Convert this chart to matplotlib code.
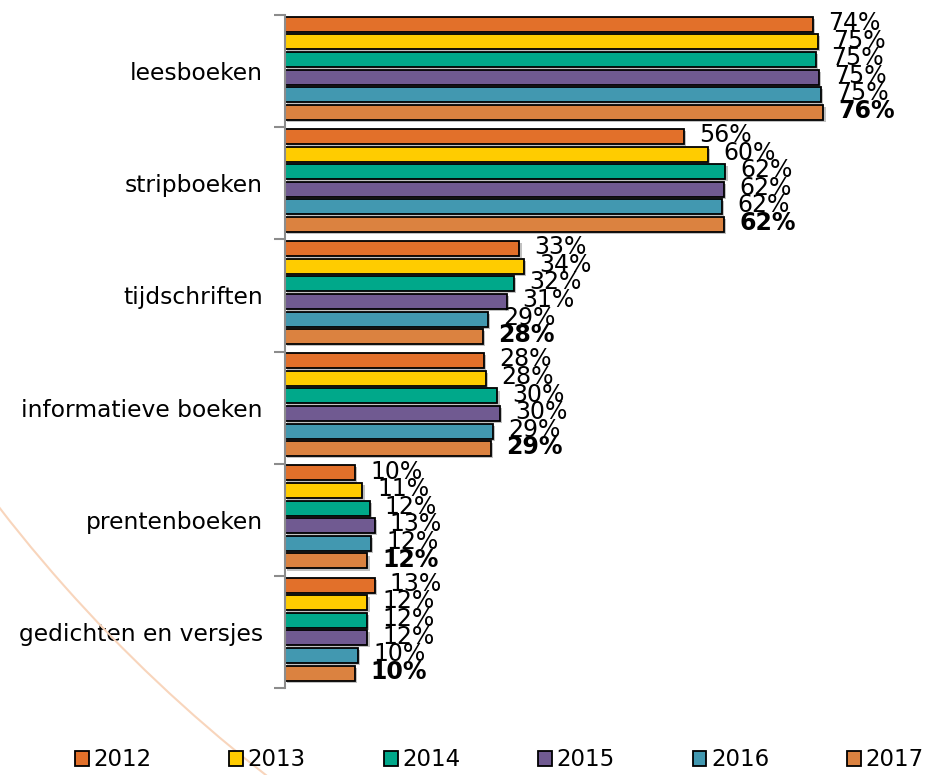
import numpy as np
import matplotlib
matplotlib.use("Agg")
import matplotlib.pyplot as plt
from matplotlib.patches import Patch, Arc
import matplotlib.patheffects as pe

categories = ["leesboeken", "stripboeken", "tijdschriften",
              "informatieve boeken", "prentenboeken", "gedichten en versjes"]
years = ["2012", "2013", "2014", "2015", "2016", "2017"]
colors = ["#E2702A", "#FFCC00", "#00A88A", "#705A91", "#4298B0", "#DB8240"]

# one list per year, in category order
v2012 = [74.3, 56.2, 33.0, 28.0, 9.9, 12.6]
v2013 = [75.0, 59.6, 33.6, 28.3, 10.9, 11.6]
v2014 = [74.7, 62.0, 32.2, 29.9, 11.9, 11.5]
v2015 = [75.2, 61.8, 31.2, 30.3, 12.6, 11.6]
v2016 = [75.4, 61.5, 28.6, 29.3, 12.1, 10.3]
v2017 = [75.8, 61.8, 27.8, 29.0, 11.6, 9.8]
values = [v2012, v2013, v2014, v2015, v2016, v2017]

plt.rcParams['font.family'] = ['DejaVu Sans']

fig = plt.figure(figsize=(9.3, 7.75), dpi=100)
ax = fig.add_axes([0.3065, 0.1123, 0.6935, 0.8683])

# decorative arc in the background
arc = Arc((1.2848, 1.5385), 3.2507, 3.9009, theta1=205, theta2=246,
          transform=fig.transFigure, color="#F8D5BC", lw=1.5, zorder=0)
fig.patches.append(arc)

pitch = 0.157
height = 0.134
shadow = [pe.SimplePatchShadow(offset=(1.5, -1.5), shadow_rgbFace="#999999", alpha=0.6),
          pe.Normal()]
y0 = np.arange(len(categories))
for j, (yr, vals, c) in enumerate(zip(years, values, colors)):
    ypos = y0 + (j - 2.5) * pitch - 0.025
    bars = ax.barh(ypos, vals, height=height, color=c, edgecolor="black",
                   linewidth=1.3, label=yr, zorder=2)
    for b in bars:
        b.set_path_effects(shadow)
    for y, v in zip(ypos, vals):
        ax.annotate(f"{round(v)}%", (v, y), xytext=(11, 1), textcoords="offset points",
                    va="center", ha="left", fontsize=17,
                    fontweight="bold" if j == 5 else "normal", zorder=3)

ax.set_xlim(0, 90.8)
ax.set_ylim(5.5, -0.5)
ax.set_yticks(y0)
ax.set_yticklabels(categories, fontsize=16.8)
ax.set_yticks(np.arange(-0.5, 6, 1), minor=True)
ax.tick_params(axis="y", which="major", length=0, pad=16)
ax.tick_params(axis="y", which="minor", length=8, width=1.5, color="#8C8C8C", direction="out")
ax.set_xticks([])
for s in ["top", "right", "bottom"]:
    ax.spines[s].set_visible(False)
ax.spines["left"].set_color("#8C8C8C")
ax.spines["left"].set_linewidth(1.5)
ax.patch.set_alpha(0)

handles = [Patch(facecolor=c, edgecolor="black", linewidth=1.3) for c in colors]
fig.legend(handles, years, loc="lower center", bbox_to_anchor=(0.537, -0.022),
           ncol=6, frameon=False, fontsize=16.5, handlelength=0.6, handleheight=0.6,
           handletextpad=0.2, columnspacing=3.4)

fig.savefig("out.png", dpi=100)
